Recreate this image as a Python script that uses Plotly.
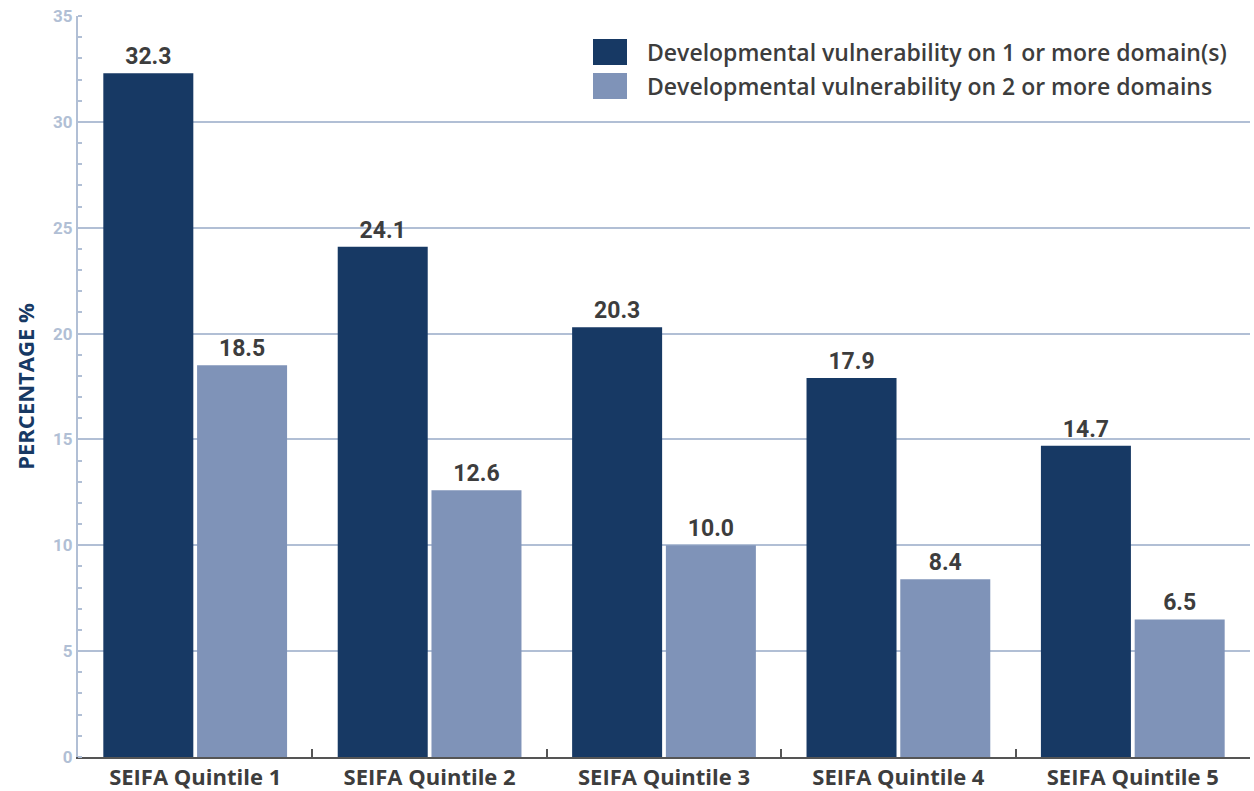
import plotly.graph_objects as go

categories = ["SEIFA Quintile 1", "SEIFA Quintile 2", "SEIFA Quintile 3", "SEIFA Quintile 4", "SEIFA Quintile 5"]
series1_name = "Developmental vulnerability on 1 or more domain(s)"
series1 = [32.3, 24.1, 20.3, 17.9, 14.7]
series2_name = "Developmental vulnerability on 2 or more domains"
series2 = [18.5, 12.6, 10.0, 8.4, 6.5]
y_ticks = [0, 5, 10, 15, 20, 25, 30, 35]

DARK = "#173964"
LIGHT = "#7f93b8"
GRID = "#b1bfd5"
TEXT = "#3d3d3d"

W, H = 1254, 791
ML, MR, MT, MB = 78, 4, 16, 34
PW, PH = W - ML - MR, H - MT - MB

fig = go.Figure()
series = [(series1_name, series1, DARK), (series2_name, series2, LIGHT)]
for name, vals, col in series:
    fig.add_trace(go.Bar(
        x=categories, y=vals, name=name, marker=dict(color=col, line=dict(width=0)),
        text=[f"{v:.1f}" for v in vals], textposition="outside", cliponaxis=False,
        textfont=dict(family="Roboto", size=23, color=TEXT, weight="bold"),
        showlegend=False,
    ))

# manual legend with large swatches
def px_x(p):
    return (p - ML) / PW

def px_y(p):
    return (H - MB - p) / PH

for i, (name, vals, col) in enumerate(series):
    top = 39 + i * 34
    fig.add_shape(type="rect", xref="paper", yref="paper",
                  x0=px_x(593), x1=px_x(627), y0=px_y(top + 26), y1=px_y(top),
                  fillcolor=col, line=dict(width=0))
    fig.add_annotation(xref="paper", yref="paper", x=px_x(645), y=px_y(top + 13),
                       xanchor="left", yanchor="middle", showarrow=False, text=name,
                       font=dict(family="Open Sans", size=23, color=TEXT, weight=600))

fig.update_layout(
    width=W, height=H,
    margin=dict(l=ML, r=MR, t=MT, b=MB, autoexpand=False),
    paper_bgcolor="white", plot_bgcolor="white",
    barmode="group", bargap=0.2, bargroupgap=0.04,
    showlegend=False,
    xaxis=dict(
        automargin=False,
        showline=True, linecolor="#555555", linewidth=2,
        ticks="inside", tickson="boundaries", ticklen=8, tickcolor="#555555", tickwidth=2,
        tickfont=dict(family="Open Sans", size=22, color=TEXT, weight="bold"),
        showgrid=False,
    ),
    yaxis=dict(
        automargin=False,
        range=[0, 35], tickvals=y_ticks,
        showline=True, linecolor=GRID, linewidth=2,
        showgrid=True, gridcolor=GRID, gridwidth=2,
        ticks="", tickfont=dict(family="Roboto", size=17, color=GRID, weight="bold"),
        minor=dict(dtick=1, ticks="inside", ticklen=4, tickcolor=GRID, tickwidth=2, showgrid=False),
        zeroline=False,
        title=dict(text="PERCENTAGE %", font=dict(family="Open Sans", size=22, color=DARK, weight="bold"), standoff=12),
    ),
)

fig.write_html("out.html", config={"displayModeBar": False},
               post_script="document.body.style.margin='0';")
